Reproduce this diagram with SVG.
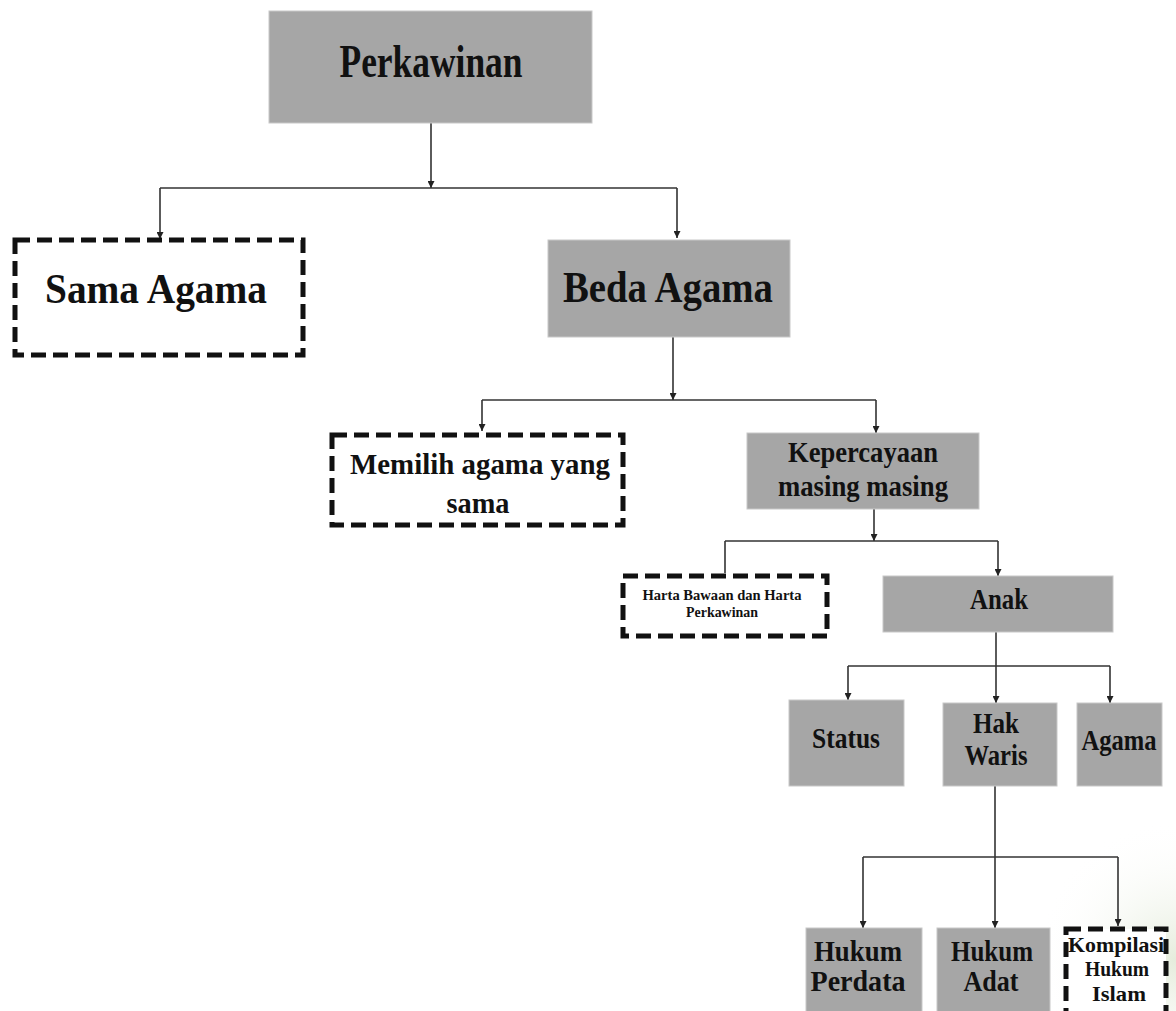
<svg xmlns="http://www.w3.org/2000/svg" width="1176" height="1011" viewBox="0 0 1176 1011">
<style>
.box{fill:#a6a6a6;stroke:#c8c8c8;stroke-width:1}
.dash{fill:#fff;stroke:#111;stroke-width:5;stroke-dasharray:15 7}
.lbl{font-family:"Liberation Serif","Times New Roman",serif;font-weight:bold;fill:#111;text-anchor:middle}
.con{fill:none;stroke:#333;stroke-width:1.6}
</style>
<defs>
<marker id="ah" viewBox="0 0 10 10" refX="10" refY="5" markerWidth="7" markerHeight="7" markerUnits="userSpaceOnUse" orient="auto">
<path d="M0,0 L10,5 L0,10 z" fill="#222"/>
</marker>
<radialGradient id="edgeR" cx="1176" cy="960" r="140" gradientUnits="userSpaceOnUse">
<stop offset="0" stop-color="#e2ead8" stop-opacity="0.9"/>
<stop offset="1" stop-color="#ffffff" stop-opacity="0"/>
</radialGradient>
</defs>
<rect width="1176" height="1011" fill="#fff"/>
<rect x="1030" y="820" width="146" height="191" fill="url(#edgeR)"/>

<g id="connectors">
<path class="con" d="M431,123 V188" marker-end="url(#ah)"/>
<path class="con" d="M160,188 H677"/>
<path class="con" d="M160,188 V239" marker-end="url(#ah)"/>
<path class="con" d="M677,188 V238" marker-end="url(#ah)"/>
<path class="con" d="M673,337 V400" marker-end="url(#ah)"/>
<path class="con" d="M482,400 H876"/>
<path class="con" d="M482,400 V431" marker-end="url(#ah)"/>
<path class="con" d="M876,400 V433" marker-end="url(#ah)"/>
<path class="con" d="M874,509 V541" marker-end="url(#ah)"/>
<path class="con" d="M725,541 H998"/>
<path class="con" d="M725,541 V573"/>
<path class="con" d="M998,541 V576" marker-end="url(#ah)"/>
<path class="con" d="M996,632 V666"/>
<path class="con" d="M848,666 H1110"/>
<path class="con" d="M848,666 V700" marker-end="url(#ah)"/>
<path class="con" d="M996,666 V703" marker-end="url(#ah)"/>
<path class="con" d="M1110,666 V703" marker-end="url(#ah)"/>
<path class="con" d="M995,786 V857"/>
<path class="con" d="M863,857 H1118"/>
<path class="con" d="M863,857 V928" marker-end="url(#ah)"/>
<path class="con" d="M995,857 V928" marker-end="url(#ah)"/>
<path class="con" d="M1118,857 V926" marker-end="url(#ah)"/>
</g>

<g id="perkawinan">
<rect class="box" x="269" y="11" width="323" height="112"/>
<text class="lbl" x="431" y="77" font-size="47" textLength="183" lengthAdjust="spacingAndGlyphs">Perkawinan</text>
</g>

<g id="sama-agama">
<rect class="dash" x="15" y="240" width="288" height="115"/>
<text class="lbl" x="156" y="303" font-size="42" textLength="222" lengthAdjust="spacingAndGlyphs">Sama Agama</text>
</g>

<g id="beda-agama">
<rect class="box" x="548" y="240" width="242" height="97"/>
<text class="lbl" x="668" y="302" font-size="44" textLength="210" lengthAdjust="spacingAndGlyphs">Beda Agama</text>
</g>

<g id="memilih">
<rect class="dash" x="332" y="435" width="291" height="90"/>
<text class="lbl" x="480" y="474" font-size="30" textLength="260" lengthAdjust="spacingAndGlyphs">Memilih agama yang</text>
<text class="lbl" x="478" y="513" font-size="30" textLength="63" lengthAdjust="spacingAndGlyphs">sama</text>
</g>

<g id="kepercayaan">
<rect class="box" x="747" y="433" width="232" height="76"/>
<text class="lbl" x="863" y="462" font-size="30" textLength="150" lengthAdjust="spacingAndGlyphs">Kepercayaan</text>
<text class="lbl" x="863" y="496" font-size="30" textLength="170" lengthAdjust="spacingAndGlyphs">masing masing</text>
</g>

<g id="harta">
<rect class="dash" x="623" y="576" width="204" height="60"/>
<text class="lbl" x="722" y="600" font-size="15" textLength="159" lengthAdjust="spacingAndGlyphs">Harta Bawaan dan Harta</text>
<text class="lbl" x="722" y="617" font-size="15" textLength="72" lengthAdjust="spacingAndGlyphs">Perkawinan</text>
</g>

<g id="anak">
<rect class="box" x="883" y="576" width="230" height="56"/>
<text class="lbl" x="999" y="609" font-size="29" textLength="58" lengthAdjust="spacingAndGlyphs">Anak</text>
</g>

<g id="status">
<rect class="box" x="789" y="700" width="115" height="86"/>
<text class="lbl" x="846" y="748" font-size="29" textLength="68" lengthAdjust="spacingAndGlyphs">Status</text>
</g>

<g id="hak-waris">
<rect class="box" x="943" y="703" width="114" height="83"/>
<text class="lbl" x="996" y="733" font-size="30" textLength="46" lengthAdjust="spacingAndGlyphs">Hak</text>
<text class="lbl" x="996" y="765" font-size="30" textLength="63" lengthAdjust="spacingAndGlyphs">Waris</text>
</g>

<g id="agama">
<rect class="box" x="1077" y="703" width="85" height="83"/>
<text class="lbl" x="1119" y="750" font-size="29" textLength="75" lengthAdjust="spacingAndGlyphs">Agama</text>
</g>

<g id="hukum-perdata">
<rect class="box" x="806" y="928" width="116" height="90"/>
<text class="lbl" x="858" y="961" font-size="29" textLength="88" lengthAdjust="spacingAndGlyphs">Hukum</text>
<text class="lbl" x="858" y="991" font-size="29" textLength="95" lengthAdjust="spacingAndGlyphs">Perdata</text>
</g>

<g id="hukum-adat">
<rect class="box" x="937" y="928" width="113" height="90"/>
<text class="lbl" x="992" y="961" font-size="29" textLength="82" lengthAdjust="spacingAndGlyphs">Hukum</text>
<text class="lbl" x="991" y="991" font-size="29" textLength="55" lengthAdjust="spacingAndGlyphs">Adat</text>
</g>

<g id="kompilasi">
<rect class="dash" x="1066" y="929" width="100" height="90"/>
<text class="lbl" x="1116" y="952" font-size="21" textLength="96" lengthAdjust="spacingAndGlyphs">Kompilasi</text>
<text class="lbl" x="1117" y="976" font-size="21" textLength="64" lengthAdjust="spacingAndGlyphs">Hukum</text>
<text class="lbl" x="1119" y="1001" font-size="21" textLength="54" lengthAdjust="spacingAndGlyphs">Islam</text>
</g>
</svg>
